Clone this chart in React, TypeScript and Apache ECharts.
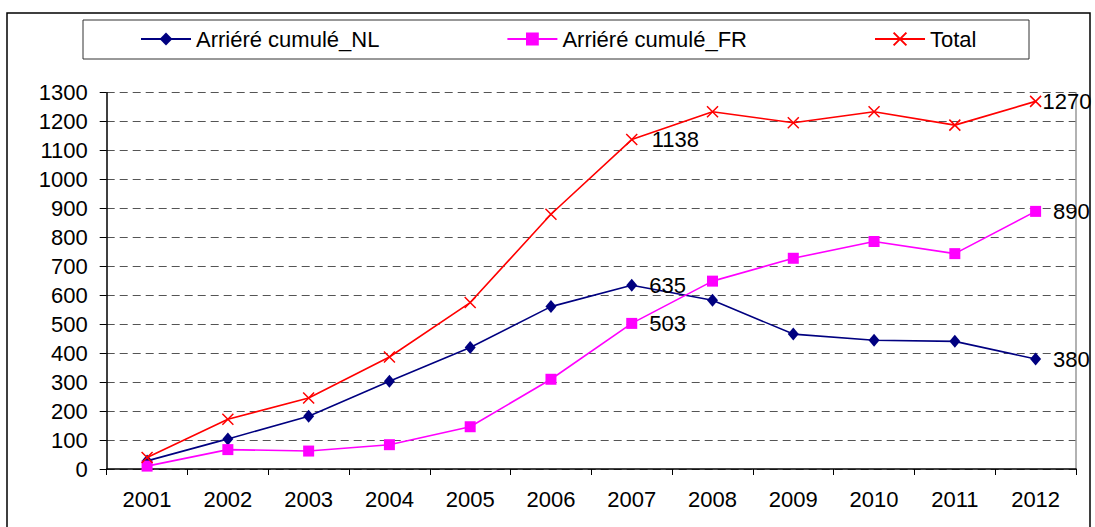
import React, { useEffect, useRef } from "react";
import * as echarts from "echarts";

const years = ["2001", "2002", "2003", "2004", "2005", "2006", "2007", "2008", "2009", "2010", "2011", "2012"];
const nlValues = [28, 104, 182, 303, 420, 561, 635, 583, 466, 445, 441, 380];
const frValues = [10, 67, 62, 84, 146, 310, 503, 649, 728, 786, 744, 890];
const totalValues = [40, 172, 245, 387, 575, 880, 1138, 1234, 1196, 1234, 1188, 1270];
const labeledIdx = [6, 11];
const seriesNames = ["Arriéré cumulé_NL", "Arriéré cumulé_FR", "Total"];

const FONT = "'Liberation Sans', Arial, sans-serif";
const FS = 22;

function withLabels(values: number[], distances: number[]) {
  return values.map((v, i) => {
    const k = labeledIdx.indexOf(i);
    if (k < 0) return v;
    return {
      value: v,
      label: {
        show: true,
        position: "right",
        distance: distances[k],
        color: "#000",
        fontFamily: FONT,
        fontSize: FS,
        formatter: "{c}",
      },
    };
  });
}

export default function App() {
  const ref = useRef<HTMLDivElement>(null);
  useEffect(() => {
    if (!ref.current) return;
    const chart = echarts.init(ref.current, undefined, { renderer: "svg" });
    chart.setOption({
      animation: false,
      backgroundColor: "#fff",
      textStyle: { fontFamily: FONT },
      graphic: [
        {
          type: "rect",
          shape: { x: 7, y: 13, width: 1083, height: 600 },
          style: { fill: "none", stroke: "#000", lineWidth: 1.5 },
          silent: true,
          z: -1,
        },
        {
          type: "rect",
          shape: { x: 83, y: 20, width: 946, height: 39 },
          style: { fill: "none", stroke: "#333", lineWidth: 1 },
          silent: true,
          z: -1,
        },
      ],
      legend: {
        left: 135,
        top: 23,
        itemWidth: 50,
        itemHeight: 16,
        itemGap: 127,
        textStyle: { fontFamily: FONT, fontSize: FS, color: "#000" },
        data: seriesNames,
      },
      grid: { left: 106.7, right: 19, top: 92.7, bottom: 58, containLabel: false },
      xAxis: {
        type: "category",
        data: years,
        boundaryGap: true,
        axisLine: { lineStyle: { color: "#000", width: 1.5 } },
        axisTick: { show: true, length: 6, lineStyle: { color: "#000" } },
        axisLabel: { color: "#000", fontFamily: FONT, fontSize: FS, margin: 19 },
        splitLine: { show: false },
      },
      yAxis: [
        {
          type: "value",
          min: 0,
          max: 1300,
          interval: 100,
          axisLine: { show: true, lineStyle: { color: "#000", width: 1.5 } },
          axisTick: { show: true, length: 7, lineStyle: { color: "#000" } },
          axisLabel: {
            color: "#000",
            fontFamily: FONT,
            fontSize: FS,
            margin: 19,
            formatter: (v: number) => String(v),
          },
          splitLine: { show: true, lineStyle: { color: "#555", type: [8, 5], width: 1 } },
        },
        {
          type: "value",
          position: "right",
          min: 0,
          max: 1300,
          interval: 100,
          axisLine: { show: true, lineStyle: { color: "#999", width: 1.5 } },
          axisTick: { show: false },
          axisLabel: { show: false },
          splitLine: { show: false },
        },
      ],
      series: [
        {
          name: seriesNames[0],
          type: "line",
          data: withLabels(nlValues, [12, 12]),
          symbol: "diamond",
          symbolSize: [11, 13],
          lineStyle: { color: "#000080", width: 1.6 },
          itemStyle: { color: "#000080" },
          z: 3,
        },
        {
          name: seriesNames[1],
          type: "line",
          data: withLabels(frValues, [12, 12]),
          symbol: "rect",
          symbolSize: 11,
          lineStyle: { color: "#FF00FF", width: 1.6 },
          itemStyle: { color: "#FF00FF" },
          z: 4,
        },
        {
          name: seriesNames[2],
          type: "line",
          data: withLabels(totalValues, [12, -1]),
          symbol: "path://M0,0L10,10M10,0L0,10",
          symbolSize: 11,
          lineStyle: { color: "#FF0000", width: 1.6 },
          itemStyle: { color: "none", borderColor: "#FF0000", borderWidth: 1.5 },
          z: 5,
        },
      ],
    });
    return () => chart.dispose();
  }, []);
  return (
    <div
      ref={ref}
      style={{ position: "fixed", left: 0, top: 0, width: 1095, height: 527 }}
    />
  );
}
